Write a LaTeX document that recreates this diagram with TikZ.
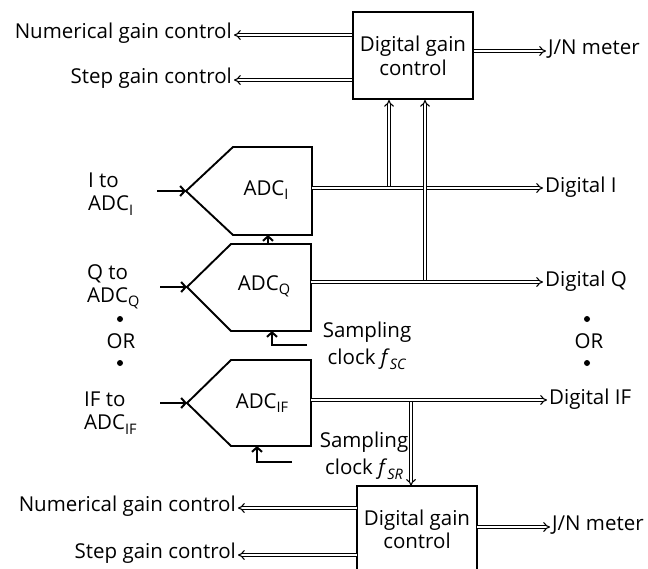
\documentclass[tikz,border=0pt]{standalone}
\usepackage{fontspec}
\setmainfont{Open Sans}
\usetikzlibrary{arrows.meta}
\newcommand\mysbs[1]{\raisebox{-0.4ex}{\fontsize{14.5}{14.5}\selectfont #1}}
\begin{document}
\begin{tikzpicture}[x=1pt,y=-1pt,
  lbl/.style={inner sep=2pt, font=\fontsize{20.5}{23}\selectfont},
  samp/.style={inner sep=2pt, align=center, font=\fontsize{20.5}{27}\selectfont},
  gbox/.style={draw, line width=1.9pt, inner sep=0pt, minimum width=120pt, align=center, font=\fontsize{20.5}{24}\selectfont},
  dbl/.style={double, line width=1.1pt, double distance=2.2pt, -{Implies}},
  sarr/.style={line width=2pt, -{Straight Barb[length=4.5pt,width=10pt]}},
  shp/.style={line width=1.9pt, line join=miter},
  dotn/.style={circle, fill, inner sep=0pt, minimum size=6pt}]
\useasboundingbox (0,0) rectangle (648,568);
\clip (0,0) rectangle (648,568);

% top gain control
\node[gbox, minimum height=87pt] (dgc1) at (413,55.5) {Digital gain\\control};
\node[lbl, anchor=east] (ngc1) at (234,33) {Numerical gain control};
\node[lbl, anchor=east] (sgc1) at (234,78) {Step gain control};
\node[lbl, anchor=west] (jn1) at (546,49) {J/N meter};
\draw[dbl] (dgc1.west |- 0,35) -- (ngc1.east |- 0,35);
\draw[dbl] (dgc1.west |- 0,80) -- (sgc1.east |- 0,80);
\draw[dbl] (dgc1.east |- 0,51) -- (jn1.west |- 0,51);

% ADC shapes
\draw[shp] (186,191) -- (233,147) -- (312,147) -- (312,235) -- (233,235) -- cycle;
\draw[shp] (187,287) -- (231,244) -- (311,244) -- (311,331) -- (231,331) -- cycle;
\draw[shp] (187,403) -- (231,360) -- (311,360) -- (311,446) -- (231,446) -- cycle;
\node[lbl] (adcI) at (266,190) {ADC\mysbs{I}};
\node[lbl] (adcQ) at (264,286) {ADC\mysbs{Q}};
\node[lbl] (adcIF) at (262,403) {ADC\mysbs{IF}};

\coordinate (adcIin) at (186,191);
\coordinate (adcQin) at (187,287);
\coordinate (adcIFin) at (187,403);
\coordinate (adcIout) at (312,188);
\coordinate (adcQout) at (311,282);
\coordinate (adcIFout) at (311,400);

% input labels
\node[lbl, align=left, anchor=west] (inI) at (86,194) {I to\\ADC\mysbs{I}};
\node[lbl, align=left, anchor=west] (inQ) at (85,287) {Q to\\ADC\mysbs{Q}};
\node[lbl, align=left, anchor=west] (inIF) at (82,413) {IF to\\ADC\mysbs{IF}};
\node[dotn] (ld1) at (120,319) {};
\node[lbl] (lor) at (121,341) {OR};
\node[dotn] (ld2) at (120,363) {};

\coordinate (sI) at (157,191);
\coordinate (sQ) at (160,287);
\coordinate (sIF) at (160,403);
\draw[sarr] (sI) -- (adcIin);
\draw[sarr] (sQ) -- (adcQin);
\draw[sarr] (sIF) -- (adcIFin);

% output labels
\node[lbl, anchor=west] (digI) at (543,187) {Digital I};
\node[lbl, anchor=west] (digQ) at (543,281) {Digital Q};
\node[lbl, anchor=west] (digIF) at (547,399) {Digital IF};
\node[dotn] (rd1) at (587,319) {};
\node[lbl] (ror) at (589,341) {OR};
\node[dotn] (rd2) at (587,363) {};

% bottom gain control
\node[draw=none, inner sep=0pt, minimum width=120pt, minimum height=86pt, align=center, font=\fontsize{20.5}{23}\selectfont] (dgc2) at (417,529) {Digital gain\\control};
\draw[line width=1.9pt] (dgc2.south west) -- (dgc2.north west) -- (dgc2.north east) -- (dgc2.south east);
\node[lbl, anchor=east] (ngc2) at (238,506) {Numerical gain control};
\node[lbl, anchor=east] (sgc2) at (238,553) {Step gain control};
\node[lbl, anchor=west] (jn2) at (550,525) {J/N meter};
\draw[dbl] (dgc2.west |- 0,508) -- (ngc2.east |- 0,508);
\draw[dbl] (dgc2.west |- 0,555) -- (sgc2.east |- 0,555);
\draw[dbl] (dgc2.east |- 0,527) -- (jn2.west |- 0,527);

% junctions
\coordinate (j1) at (389,188);
\coordinate (j2) at (425,282);
\coordinate (j3) at (411,400);
\draw[dbl] (j1) -- (j1 |- dgc1.south);
\draw[dbl] (j3) -- (j3 |- dgc2.north);
\draw[dbl] (adcIout) -- (digI.west |- adcIout);
\draw[dbl] (j2) -- (j2 |- dgc1.south);
\draw[dbl] (adcQout) -- (digQ.west |- adcQout);
\draw[dbl] (adcIFout) -- (digIF.west |- adcIFout);

% clocks
\coordinate (qtop) at (268,244);
\coordinate (ibot) at (268,235);
\draw[sarr] (qtop) -- (ibot);
\coordinate (clkQ) at (307,345);
\coordinate (qbot) at (272,331);
\draw[sarr] (clkQ) -| (qbot);
\coordinate (clkIF) at (292,462);
\coordinate (ifbot) at (257,446);
\draw[sarr] (clkIF) -| (ifbot);
\node[samp] (sampQ) at (367,346) {Sampling\\clock \textit{f}\mysbs{\textit{SC}}};
\node[samp] (sampIF) at (364,456) {Sampling\\clock \textit{f}\mysbs{\textit{SR}}};
\end{tikzpicture}
\end{document}
